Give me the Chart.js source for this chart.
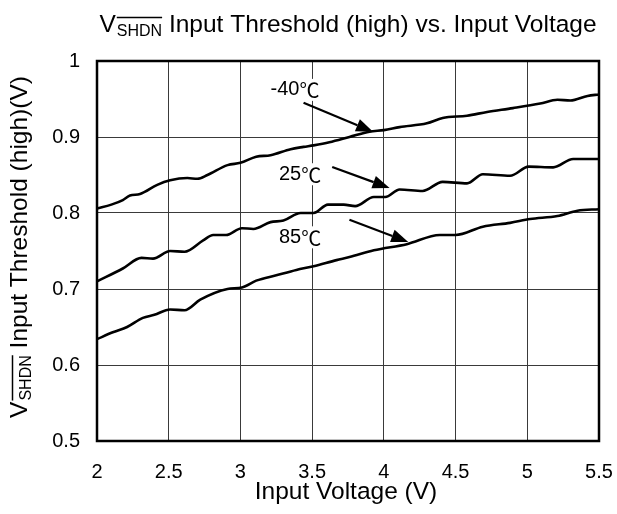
<!DOCTYPE html>
<html>
<head>
<meta charset="utf-8">
<script src="https://cdn.jsdelivr.net/npm/chart.js@4/dist/chart.umd.min.js"></script>
<style>
    body { margin: 0; background: #fff; }
</style>
</head>
<body>
<canvas id="thresholdChart" width="617" height="514"></canvas>
<script>
// input voltage (V) and threshold (V)
let voltsM40 = [2.0, 2.1, 2.18, 2.23, 2.3, 2.42, 2.51, 2.63, 2.7, 2.77, 2.91, 3.0, 3.11, 3.21, 3.35, 3.44, 3.51, 3.62, 3.76, 3.9, 4.0, 4.11, 4.3, 4.41, 4.58, 4.72, 4.9, 5.09, 5.21, 5.3, 5.42, 5.5]
let threshM40 = [0.806, 0.811, 0.817, 0.823, 0.825, 0.837, 0.843, 0.846, 0.845, 0.850, 0.863, 0.866, 0.874, 0.876, 0.884, 0.887, 0.889, 0.893, 0.900, 0.907, 0.909, 0.913, 0.918, 0.925, 0.928, 0.933, 0.938, 0.944, 0.949, 0.948, 0.954, 0.956]

let volts25 = [2.0, 2.18, 2.31, 2.39, 2.51, 2.61, 2.74, 2.81, 2.9, 3.01, 3.09, 3.21, 3.3, 3.42, 3.51, 3.61, 3.72, 3.8, 3.93, 4.01, 4.11, 4.27, 4.41, 4.58, 4.69, 4.88, 5.01, 5.18, 5.32, 5.5]
let thresh25 = [0.710, 0.727, 0.741, 0.740, 0.750, 0.749, 0.764, 0.771, 0.771, 0.780, 0.779, 0.788, 0.790, 0.800, 0.800, 0.811, 0.811, 0.809, 0.821, 0.821, 0.831, 0.829, 0.841, 0.839, 0.851, 0.849, 0.861, 0.860, 0.871, 0.871]

let volts85 = [2.0, 2.11, 2.21, 2.32, 2.4, 2.51, 2.61, 2.72, 2.91, 3.01, 3.11, 3.25, 3.39, 3.51, 3.67, 3.76, 3.93, 4.16, 4.39, 4.5, 4.69, 4.88, 5.02, 5.21, 5.35, 5.5]
let thresh85 = [0.634, 0.643, 0.650, 0.662, 0.666, 0.673, 0.672, 0.686, 0.700, 0.702, 0.711, 0.718, 0.725, 0.730, 0.738, 0.742, 0.751, 0.759, 0.771, 0.771, 0.782, 0.787, 0.792, 0.796, 0.803, 0.805]

// curve labels and their arrows, in data units
let labelTexts = ['-40', '25', '85']
let labelX = [3.38, 3.416, 3.416]
let labelY = [0.962, 0.851, 0.768]
let arrowFromX = [3.44, 3.64, 3.76]
let arrowFromY = [0.945, 0.8605, 0.791]
let arrowToX = [3.925, 4.04, 4.17]
let arrowToY = [0.907, 0.833, 0.762]

const FONT = "'Liberation Sans', Arial, sans-serif"
const CJK_FONT = "'Noto Sans CJK SC', sans-serif"

function toPoints(xs, ys) {
    return xs.map((x, i) => ({ x: x, y: ys[i] }))
}

// draws "V" + overlined subscript "SHDN" + rest, centred on cx
function drawVshdn(ctx, cx, baseY, rest) {
    let mainFont = '24.5px ' + FONT
    let subFont = '16px ' + FONT
    ctx.font = mainFont
    let wV = ctx.measureText('V').width
    let wRest = ctx.measureText(rest).width
    ctx.font = subFont
    let wSub = ctx.measureText('SHDN').width
    let total = wV + 1 + wSub + wRest
    let x = cx - total / 2

    ctx.fillStyle = '#000'
    ctx.textAlign = 'left'
    ctx.textBaseline = 'alphabetic'
    ctx.font = mainFont
    ctx.fillText('V', x, baseY)
    x += wV + 1
    ctx.font = subFont
    ctx.fillText('SHDN', x, baseY + 4)
    ctx.strokeStyle = '#000'
    ctx.lineWidth = 1.5
    ctx.beginPath()
    ctx.moveTo(x, baseY - 14.5)
    ctx.lineTo(x + wSub, baseY - 14.5)
    ctx.stroke()
    x += wSub
    ctx.font = mainFont
    ctx.fillText(rest, x, baseY)
}

const decorPlugin = {
    id: 'decor',
    beforeDatasetsDraw(chart) {
        let ctx = chart.ctx
        let xs = chart.scales.x
        let ys = chart.scales.y
        ctx.save()
        ctx.textAlign = 'left'
        ctx.textBaseline = 'middle'
        for (let i = 0; i < labelTexts.length; i++) {
            let px = xs.getPixelForValue(labelX[i])
            let py = ys.getPixelForValue(labelY[i])
            ctx.font = '20px ' + FONT
            let wNum = ctx.measureText(labelTexts[i]).width
            ctx.font = '20px ' + CJK_FONT
            let wDeg = ctx.measureText('℃').width
            let w = wNum + wDeg
            let x0 = px - w / 2
            ctx.fillStyle = '#fff'
            ctx.fillRect(x0 - 1, py - 11, w + 2, 22)
            ctx.fillStyle = '#000'
            ctx.font = '20px ' + FONT
            ctx.fillText(labelTexts[i], x0, py)
            ctx.font = '20px ' + CJK_FONT
            ctx.fillText('℃', x0 + wNum, py + 1)
        }
        ctx.restore()
    },
    afterDraw(chart) {
        let ctx = chart.ctx
        let area = chart.chartArea
        let xs = chart.scales.x
        let ys = chart.scales.y
        ctx.save()

        // frame
        ctx.strokeStyle = '#000'
        ctx.lineWidth = 2.5
        ctx.strokeRect(area.left, area.top, area.right - area.left, area.bottom - area.top)

        // arrows
        for (let i = 0; i < arrowFromX.length; i++) {
            let x1 = xs.getPixelForValue(arrowFromX[i])
            let y1 = ys.getPixelForValue(arrowFromY[i])
            let x2 = xs.getPixelForValue(arrowToX[i])
            let y2 = ys.getPixelForValue(arrowToY[i])
            let ang = Math.atan2(y2 - y1, x2 - x1)
            let headLen = 17
            let headHalf = 6.5
            let bx = x2 - headLen * Math.cos(ang)
            let by = y2 - headLen * Math.sin(ang)
            ctx.lineWidth = 2.2
            ctx.beginPath()
            ctx.moveTo(x1, y1)
            ctx.lineTo(bx, by)
            ctx.stroke()
            ctx.fillStyle = '#000'
            ctx.beginPath()
            ctx.moveTo(x2, y2)
            ctx.lineTo(bx + headHalf * Math.sin(ang), by - headHalf * Math.cos(ang))
            ctx.lineTo(bx - headHalf * Math.sin(ang), by + headHalf * Math.cos(ang))
            ctx.closePath()
            ctx.fill()
        }

        let cx = (area.left + area.right) / 2

        // chart title
        drawVshdn(ctx, cx, 32, ' Input Threshold (high) vs. Input Voltage')

        // y axis title
        ctx.save()
        ctx.translate(27, 247)
        ctx.rotate(-Math.PI / 2)
        drawVshdn(ctx, 0, 0, ' Input Threshold (high)(V)')
        ctx.restore()

        // x axis title
        ctx.fillStyle = '#000'
        ctx.font = '24.5px ' + FONT
        ctx.textAlign = 'center'
        ctx.textBaseline = 'alphabetic'
        ctx.fillText('Input Voltage (V)', cx - 2, 499)

        ctx.restore()
    }
}

document.addEventListener("DOMContentLoaded", function() {
    let lineStyle = {
        borderColor: '#000',
        borderWidth: 2.6,
        pointRadius: 0,
        fill: false,
        cubicInterpolationMode: 'monotone'
    }

    let thresholdData = {
        datasets: [
            Object.assign({ label: '-40℃', data: toPoints(voltsM40, threshM40) }, lineStyle),
            Object.assign({ label: '25℃', data: toPoints(volts25, thresh25) }, lineStyle),
            Object.assign({ label: '85℃', data: toPoints(volts85, thresh85) }, lineStyle)
        ]
    }

    let thresholdOptions = {
        responsive: false,
        animation: false,
        layout: {
            padding: { left: 0, top: 61, right: 18, bottom: 0 }
        },
        plugins: {
            legend: { display: false },
            tooltip: { enabled: false }
        },
        scales: {
            x: {
                type: 'linear',
                min: 2,
                max: 5.5,
                border: { display: false },
                grid: { color: '#3a3a3a', lineWidth: 1, drawTicks: false },
                ticks: {
                    stepSize: 0.5,
                    color: '#000',
                    padding: 19,
                    maxRotation: 0,
                    font: { family: FONT, size: 20 },
                    callback: function(v) { return String(Math.round(v * 10) / 10) }
                },
                afterFit: function(scale) {
                    scale.height = 73
                    scale.paddingLeft = 0
                    scale.paddingRight = 0
                }
            },
            y: {
                type: 'linear',
                min: 0.5,
                max: 1,
                border: { display: false },
                grid: { color: '#3a3a3a', lineWidth: 1, drawTicks: false },
                ticks: {
                    stepSize: 0.1,
                    color: '#000',
                    padding: 17,
                    font: { family: FONT, size: 20 },
                    callback: function(v) { return String(Math.round(v * 10) / 10) }
                },
                afterFit: function(scale) { scale.width = 97 }
            }
        }
    }

    let thresholdChart = new Chart(document.getElementById('thresholdChart'), {
        type: 'line',
        data: thresholdData,
        options: thresholdOptions,
        plugins: [decorPlugin]
    })
})
</script>
</body>
</html>
